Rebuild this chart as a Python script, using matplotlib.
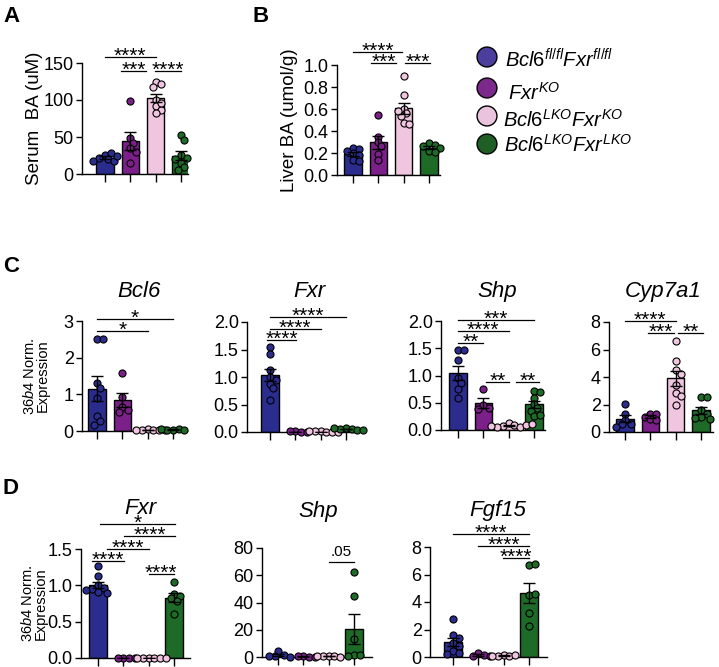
import numpy as np
import matplotlib.pyplot as plt

plt.rcParams['font.family'] = ['Liberation Sans', 'DejaVu Sans']
plt.rcParams['mathtext.fontset'] = 'custom'
plt.rcParams['mathtext.rm'] = 'Liberation Sans'
plt.rcParams['mathtext.it'] = 'Liberation Sans:italic'
plt.rcParams['axes.spines.top'] = False
plt.rcParams['axes.spines.right'] = False
plt.rcParams['axes.linewidth'] = 1.0

W, H = 719, 667

groups = [r'$\mathit{Bcl6}^{\mathit{fl/fl}}\mathit{Fxr}^{\mathit{fl/fl}}$',
          r'$\mathit{Fxr}^{\mathit{KO}}$',
          r'$\mathit{Bcl6}^{\mathit{LKO}}\mathit{Fxr}^{\mathit{KO}}$',
          r'$\mathit{Bcl6}^{\mathit{LKO}}\mathit{Fxr}^{\mathit{LKO}}$']
bar_colors = ['#2b2d8e', '#7c2089', '#f0c5df', '#1e6b27']
legend_colors = ['#4b3e9c', '#7b2a8c', '#eac3de', '#1f5e25']

# individual animals, one list per group
serum_ba = [[26, 28, 22, 20, 18, 24, 17],
            [99, 48, 42, 35, 30, 15],
            [124, 122, 118, 100, 92, 87, 82, 96],
            [53, 46, 26, 22, 15, 9, 6, 20]]
liver_ba = [[0.25, 0.24, 0.20, 0.18, 0.14, 0.13, 0.22],
            [0.55, 0.35, 0.30, 0.26, 0.19, 0.14],
            [0.90, 0.73, 0.60, 0.56, 0.54, 0.47, 0.46, 0.58],
            [0.29, 0.27, 0.26, 0.25, 0.22, 0.21]]
c_bcl6 = [[2.52, 2.52, 1.30, 1.16, 0.90, 0.40, 0.28, 0.17],
          [1.57, 0.92, 0.66, 0.57, 0.52],
          [0.05, 0.03, 0.04, 0.02, 0.03, 0.04],
          [0.04, 0.05, 0.03, 0.04, 0.05]]
c_fxr = [[1.55, 1.42, 1.12, 1.00, 0.95, 0.88, 0.80, 0.58],
         [0.01, 0.00, 0.01, 0.00],
         [0.01, 0.00, 0.01, 0.00, 0.01, 0.00],
         [0.08, 0.06, 0.05, 0.04, 0.07, 0.03]]
c_shp = [[1.46, 1.46, 1.28, 0.95, 0.86, 0.76, 0.59],
         [0.75, 0.45, 0.40, 0.38],
         [0.12, 0.10, 0.08, 0.06, 0.05, 0.09, 0.07, 0.11],
         [0.72, 0.70, 0.58, 0.48, 0.40, 0.34, 0.26, 0.28]]
c_cyp7a1 = [[2.06, 1.33, 0.90, 0.60, 0.55, 0.40],
            [1.33, 1.30, 1.10, 0.95, 0.85],
            [6.62, 5.16, 4.48, 4.24, 3.39, 2.84, 2.60, 1.99],
            [2.55, 2.55, 1.58, 1.33, 1.09, 1.04, 0.97]]
d_fxr = [[1.26, 1.13, 1.00, 0.96, 0.95, 0.91, 0.89, 0.93],
         [0.0, 0.0, 0.0, 0.0],
         [0.0, 0.0, 0.0, 0.0, 0.0, 0.0],
         [1.05, 0.88, 0.86, 0.82, 0.78, 0.60]]
d_shp = [[4.2, 1.2, 0.8, 0.5, 0.3],
         [0.5, 0.3, 0.4, 0.2],
         [1.0, 0.8, 0.5, 0.3, 0.6],
         [62.5, 45, 13, 1.5, 1.2, 0.5]]
d_fgf15 = [[2.74, 1.58, 1.40, 1.04, 0.80, 0.44, 0.32, 0.20],
           [0.30, 0.15, 0.10, 0.05],
           [0.15, 0.10, 0.08, 0.12, 0.05],
           [6.67, 6.74, 4.50, 4.56, 3.18, 2.25]]

# comparisons: (x1, x2, y, label)
sig_a = [(0, 2, 158, '****'), (0.63, 1.64, 139, '***'), (1.96, 3.0, 139, '****')]
sig_b = [(0, 1.93, 1.12, '****'), (0.7, 1.71, 1.02, '***'), (2.07, 3.03, 1.02, '***')]
sig_bcl6 = [(0, 3, 3.06, '*'), (0, 2, 2.72, '*')]
sig_cfxr = [(-0.1, 1.03, 1.67, '****'), (0, 2, 1.88, '****'), (0, 3, 2.09, '****')]
sig_cshp = [(0, 1, 1.60, '**'), (0, 2, 1.81, '****'), (0, 3, 2.01, '***'),
            (1.12, 2.0, 0.88, '**'), (2.28, 3.22, 0.88, '**')]
sig_cyp = [(0, 2, 8.07, '****'), (0.91, 1.92, 7.2, '***'), (2.1, 3.1, 7.2, '**')]
sig_dfxr = [(0.09, 3.05, 1.84, '*'), (1.04, 3.05, 1.68, '****'), (0.36, 2.0, 1.5, '****'),
            (-0.24, 1.02, 1.34, '****'), (2.0, 3.0, 1.16, '****')]
sig_dshp = [(2.0, 3.0, 69.7, '.05')]
sig_fgf = [(0, 3, 8.92, '****'), (1, 3, 8.07, '****'), (1.99, 3.0, 7.22, '****')]

ylab_c = r'$\mathit{36b4}$ Norm.' + '\nExpression'

# data, yticks, fmt, ylabel, label right edge px, title, (tx, ty), sigs, (L, R, top, bottom, bar0)
panels = [
    (serum_ba, [0, 50, 100, 150], '{:.0f}', 'Serum  BA (uM)', 43, None, None, sig_a, (82, 188, 63, 174, 105)),
    (liver_ba, [0, 0.2, 0.4, 0.6, 0.8, 1.0], '{:.1f}', 'Liver BA (umol/g)', 298, None, None, sig_b, (337, 440, 65, 175, 353)),
    (c_bcl6, [0, 1, 2, 3], '{:.0f}', ylab_c, 50, 'Bcl6', (139, 297), sig_bcl6, (82, 187, 321, 431, 97)),
    (c_fxr, [0, 0.5, 1.0, 1.5, 2.0], '{:.1f}', None, 0, 'Fxr', (309, 297), sig_cfxr, (247, 357, 322, 432, 270)),
    (c_shp, [0, 0.5, 1.0, 1.5, 2.0], '{:.1f}', None, 0, 'Shp', (497, 297), sig_cshp, (441, 545, 321, 430, 458)),
    (c_cyp7a1, [0, 2, 4, 6, 8], '{:.0f}', None, 0, 'Cyp7a1', (663, 297), sig_cyp, (609, 713, 322, 432, 625)),
    (d_fxr, [0, 0.5, 1.0, 1.5], '{:.1f}', ylab_c, 48, 'Fxr', (140, 514), sig_dfxr, (81, 190, 549, 658, 98)),
    (d_shp, [0, 20, 40, 60, 80], '{:.0f}', None, 0, 'Shp', (318, 517), sig_dshp, (262, 372, 548, 657, 278)),
    (d_fgf15, [0, 2, 4, 6, 8], '{:.0f}', None, 0, 'Fgf15', (498, 516), sig_fgf, (430, 547, 547, 657, 453)),
]

fig = plt.figure(figsize=(W / 100, H / 100), dpi=100)


def swarm_x(ax, vals, center, diam=7.2):
    pts = ax.transData.transform(np.column_stack([np.full(len(vals), center), vals]))
    placed, out = [], []
    for px, py in pts:
        for k in range(80):
            dx = 0 if k == 0 else ((k + 1) // 2) * diam * 0.4 * (1 if k % 2 else -1)
            if all((px + dx - qx) ** 2 + (py - qy) ** 2 >= (diam * 0.72) ** 2 for qx, qy in placed):
                break
        placed.append((px + dx, py))
        out.append(ax.transData.inverted().transform((px + dx, py))[0])
    return out


for data, yticks, fmt, ylabel, lab_x, title, tpos, sigs, (L, R, top, bot, b0) in panels:
    ax = fig.add_axes([L / W, 1 - bot / H, (R - L) / W, (bot - top) / H])
    sp = 25.3
    ax.set_xlim((L - b0) / sp, (R - b0) / sp)
    ax.set_ylim(yticks[0], yticks[-1])
    x = np.arange(4)
    means = [np.mean(v) for v in data]
    sems = [np.std(v, ddof=1) / np.sqrt(len(v)) for v in data]
    ax.bar(x, means, width=0.68, color=bar_colors, edgecolor='black', linewidth=1, zorder=1)
    for i, v in enumerate(data):
        ax.scatter(swarm_x(ax, v, i), v, s=26, color=bar_colors[i], edgecolors='black',
                   linewidths=0.8, zorder=3, clip_on=False)
    ax.errorbar(x, means, yerr=sems, fmt='none', ecolor='black', elinewidth=1,
                capsize=4, capthick=1, zorder=4)
    ax.set_xticks(x)
    ax.set_xticklabels([])
    ax.set_yticks(yticks)
    ax.set_yticklabels([fmt.format(t) for t in yticks])
    ax.tick_params(axis='x', length=6, width=1)
    ax.tick_params(axis='y', length=4, width=1, labelsize=13, pad=2)
    if ylabel:
        fs = 13.5 if '\n' not in ylabel else 10.5
        ax.set_ylabel(ylabel, fontsize=fs, linespacing=0.95)
        ax.yaxis.set_label_coords((lab_x - L) / (R - L), 0.5)
    if title:
        fig.text(tpos[0] / W, 1 - tpos[1] / H, title, ha='center', va='baseline',
                 fontsize=16, style='italic')
    for x1, x2, y, lab in sigs:
        ax.plot([x1, x2], [y, y], color='black', lw=0.9, clip_on=False)
        star = '*' in lab
        ax.annotate(lab, ((x1 + x2) / 2, y), xytext=(0, -3.5 if star else 4),
                    textcoords='offset points', ha='center', va='baseline',
                    fontsize=15 if star else 11, annotation_clip=False)

# panel letters
for lab, (lx, ly) in zip('ABCD', [(3, 6), (253, 6), (3, 256), (3, 478)]):
    fig.text(lx / W, 1 - ly / H, lab, fontsize=16, fontweight='bold', va='top')

# legend
leg = fig.add_axes([0, 0, 1, 1], zorder=-1)
leg.set_xlim(0, W)
leg.set_ylim(H, 0)
leg.axis('off')
circle_y = [57, 88, 116, 144]
text_x = [505, 508, 503, 504]
text_y = [68, 100, 127, 152]
leg.scatter([487] * 4, circle_y, s=205, color=legend_colors, edgecolors='black', linewidths=1)
for g, tx, ty in zip(groups, text_x, text_y):
    leg.text(tx, ty, g, fontsize=14.5, va='baseline', ha='left')

fig.savefig('out.png', dpi=100)
